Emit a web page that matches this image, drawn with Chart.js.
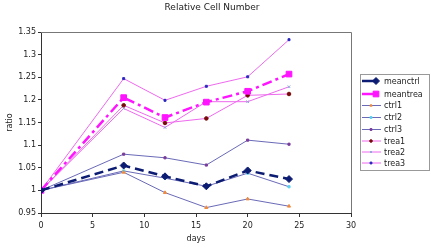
<!DOCTYPE html>
<html>
<head>
<meta charset="utf-8">
<script src="https://cdn.jsdelivr.net/npm/chart.js@4/dist/chart.umd.min.js"></script>
<style>
  html, body { margin: 0; padding: 0; background: #fff; }
  #wrap { width: 431px; height: 249px; position: relative; }
</style>
</head>
<body>
<div id="wrap"><canvas id="chartCellNumber"></canvas></div>
<script>
// values
var days = [0, 8, 12, 16, 20, 24];
var meanctrl = [1, 1.055, 1.031, 1.009, 1.044, 1.025];
var meantrea = [1, 1.205, 1.161, 1.195, 1.219, 1.257];
var ctrl1 = [1, 1.040, 0.995, 0.962, 0.981, 0.965];
var ctrl2 = [1, 1.043, 1.027, 1.009, 1.038, 1.008];
var ctrl3 = [1, 1.080, 1.072, 1.056, 1.111, 1.102];
var trea1 = [1, 1.188, 1.149, 1.159, 1.210, 1.213];
var trea2 = [1, 1.181, 1.139, 1.196, 1.196, 1.229];
var trea3 = [1, 1.247, 1.199, 1.230, 1.251, 1.333];
var xTicks = [0, 5, 10, 15, 20, 25, 30];
var yTicks = [0.95, 1, 1.05, 1.1, 1.15, 1.2, 1.25, 1.3, 1.35];

var FONT = 'DejaVu Sans';

function pts(vals) {
    var out = [];
    for (var i = 0; i < days.length; i++) out.push({x: days[i], y: vals[i]});
    return out;
}

function series(label, vals, line, width, dash, marker, mColor, radius) {
    return {
        label: label,
        data: pts(vals),
        borderColor: line,
        borderWidth: width,
        borderDash: dash,
        pointStyle: marker,
        pointRadius: radius,
        pointBackgroundColor: mColor,
        pointBorderColor: mColor,
        pointBorderWidth: 1,
        fill: false,
        tension: 0
    };
}

var ctrlLine = '#6a6ab8', treaLine = '#ee6aee';
var datasets = [
    series('meanctrl', meanctrl, '#0c1c72', 2.5, [9, 5], 'rectRot', '#0c1c72', 3.5),
    series('meantrea', meantrea, '#ff14ff', 2.5, [10, 4, 3, 4], 'rect', '#ff14ff', 4),
    series('ctrl1', ctrl1, ctrlLine, 1, [], 'triangle', '#f08a3c', 1.8),
    series('ctrl2', ctrl2, ctrlLine, 1, [], 'rect', '#5ad2f0', 1.5),
    series('ctrl3', ctrl3, ctrlLine, 1, [], 'rect', '#7a3c9a', 1.5),
    series('trea1', trea1, treaLine, 1, [], 'circle', '#7a0a0a', 1.8),
    series('trea2', trea2, treaLine, 1, [], 'crossRot', '#8aa8d8', 1.8),
    series('trea3', trea3, treaLine, 1, [], 'rect', '#2828c0', 1.4)
];

// title, plot frame and the boxed legend on the right
var decor = {
    id: 'decor',
    beforeDraw: function(chart) {
        var ctx = chart.ctx;
        ctx.save();
        ctx.fillStyle = '#fff';
        ctx.fillRect(0, 0, chart.width, chart.height);
        ctx.restore();
    },
    afterDraw: function(chart) {
        var ctx = chart.ctx, a = chart.chartArea;
        ctx.save();
        ctx.strokeStyle = '#777';
        ctx.lineWidth = 1;
        ctx.beginPath();
        ctx.moveTo(a.left, a.top + 0.5);
        ctx.lineTo(a.right + 0.5, a.top + 0.5);
        ctx.lineTo(a.right + 0.5, a.bottom);
        ctx.stroke();

        ctx.fillStyle = '#222';
        ctx.font = '9px "' + FONT + '"';
        ctx.textAlign = 'center';
        ctx.textBaseline = 'middle';
        ctx.fillText('Relative Cell Number', 212, 7.5);

        // legend
        var lx = 360, ly = 74, lw = 69, lh = 96;
        ctx.strokeStyle = '#999';
        ctx.strokeRect(lx + 0.5, ly + 0.5, lw, lh);
        var rows = [81, 94, 105.5, 117.5, 129.5, 141, 152, 163];
        ctx.font = '8px "' + FONT + '"';
        ctx.textAlign = 'left';
        chart.data.datasets.forEach(function(ds, i) {
            var y = rows[i];
            var big = i < 2;
            ctx.strokeStyle = ds.borderColor;
            ctx.lineWidth = ds.borderWidth;
            ctx.setLineDash([]);
            ctx.beginPath();
            ctx.moveTo(362, y);
            ctx.lineTo(big ? 377 : 381, y);
            ctx.stroke();
            var mx = big ? 376 : 371;
            if (Chart.helpers && Chart.helpers.drawPoint) {
                ctx.fillStyle = ds.pointBackgroundColor;
                ctx.strokeStyle = ds.pointBorderColor;
                ctx.lineWidth = 1;
                Chart.helpers.drawPoint(ctx, {
                    pointStyle: ds.pointStyle,
                    radius: big ? ds.pointRadius : 1.3,
                    rotation: 0,
                    borderWidth: 1
                }, mx, y);
            }
            ctx.fillStyle = '#222';
            ctx.fillText(ds.label, 384, y + 0.5);
        });
        ctx.restore();
    }
};

var ctx = document.getElementById('chartCellNumber');
var chartCellNumber = new Chart(ctx, {
    type: 'line',
    data: { datasets: datasets },
    plugins: [decor],
    options: {
        responsive: true,
        maintainAspectRatio: false,
        animation: false,
        devicePixelRatio: 1,
        layout: { padding: { left: 0, top: 32, right: 80, bottom: 0 } },
        plugins: {
            legend: { display: false },
            title: { display: false },
            tooltip: { enabled: false }
        },
        scales: {
            x: {
                type: 'linear',
                min: 0,
                max: 30,
                afterBuildTicks: function(scale) {
                    scale.ticks = xTicks.map(function(v) { return {value: v}; });
                },
                afterFit: function(scale) { scale.height = 36; },
                grid: { drawOnChartArea: false, drawTicks: true, tickLength: 4, color: '#333' },
                border: { color: '#333', width: 1 },
                ticks: {
                    color: '#222',
                    font: { family: FONT, size: 8 },
                    padding: 4,
                    maxRotation: 0,
                    callback: function(v) { return String(v); }
                },
                title: {
                    display: true,
                    text: 'days',
                    color: '#222',
                    font: { family: FONT, size: 8 },
                    padding: { top: 0, bottom: 5 }
                }
            },
            y: {
                min: 0.95,
                max: 1.35,
                afterBuildTicks: function(scale) {
                    scale.ticks = yTicks.map(function(v) { return {value: v}; });
                },
                afterFit: function(scale) { scale.width = 41; },
                grid: { drawOnChartArea: false, drawTicks: true, tickLength: 3, color: '#333' },
                border: { color: '#333', width: 1 },
                ticks: {
                    color: '#222',
                    font: { family: FONT, size: 8 },
                    padding: 2,
                    callback: function(v) { return String(+v.toFixed(2)); }
                },
                title: {
                    display: true,
                    text: 'ratio',
                    color: '#222',
                    font: { family: FONT, size: 8 },
                    padding: { top: 5, bottom: 0 }
                }
            }
        }
    }
});
</script>
</body>
</html>
